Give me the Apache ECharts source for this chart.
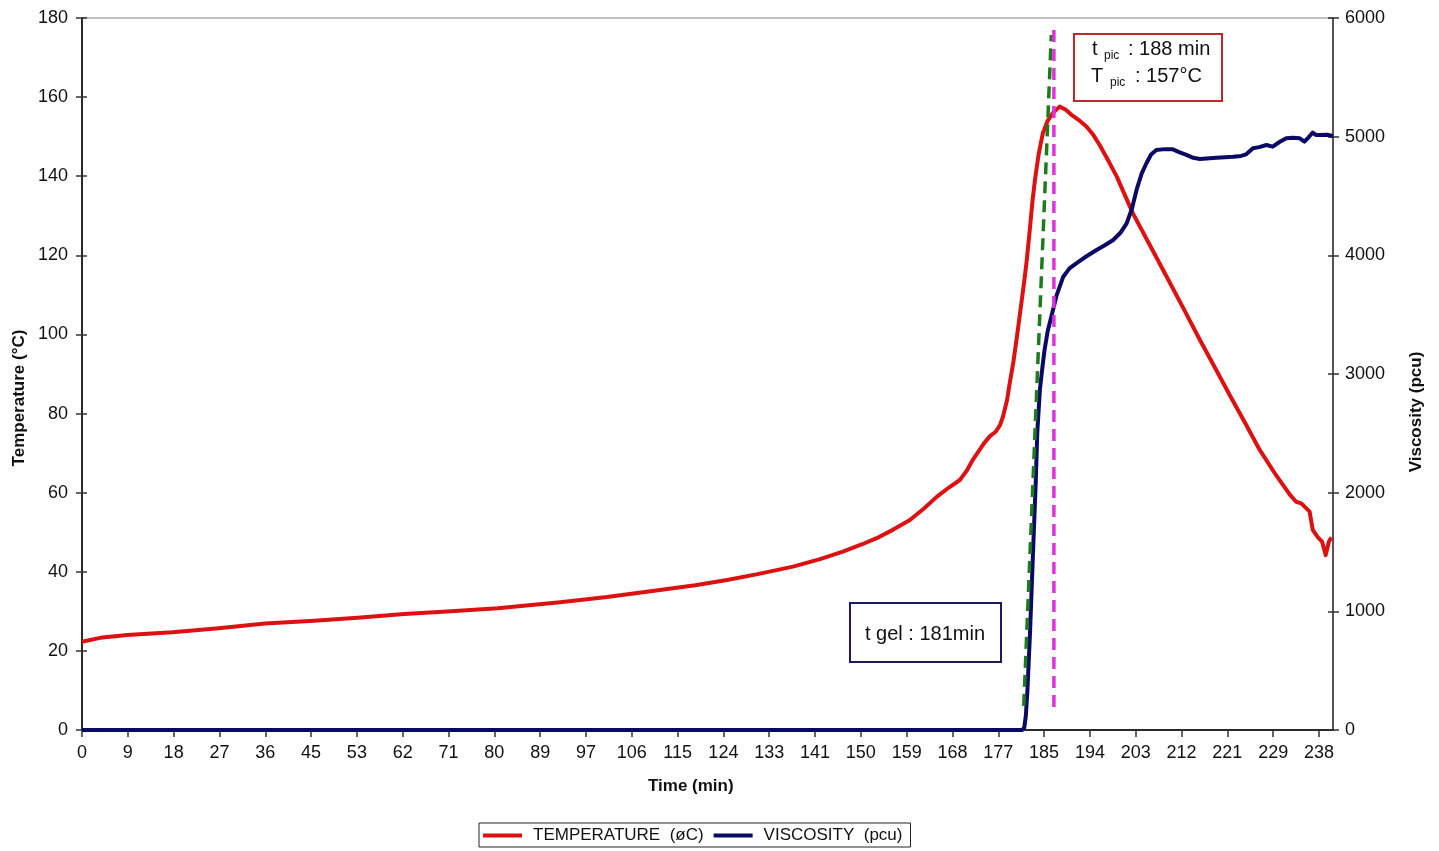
<!DOCTYPE html>
<html>
<head>
<meta charset="utf-8">
<script src="https://cdn.jsdelivr.net/npm/echarts@6/dist/echarts.min.js"></script>
<style>
html,body{margin:0;padding:0;background:#fff;}
#chart{width:1439px;height:851px;}
</style>
</head>
<body>
<div id="chart"></div>
<script>
// ---- data (time in min) ----
const xTickLabels = ['0','9','18','27','36','45','53','62','71','80','89','97','106','115','124','133','141','150','159','168','177','185','194','203','212','221','229','238'];
const tempLabel = 'TEMPERATURE  (øC)';
const viscLabel = 'VISCOSITY  (pcu)';
const temperature = [
  [0,22.3],[3.5,23.3],[8.7,24.0],[17.4,24.7],[26.3,25.7],[35.2,26.9],[44.7,27.6],[53,28.4],[62,29.3],[71,30.0],
  [80,30.8],[92,32.3],[101,33.6],[111.2,35.4],[118,36.6],[124.1,37.9],[130,39.4],[136.8,41.3],[142,43.2],[146.4,45.1],
  [150,46.9],[152.9,48.5],[156,50.6],[159.3,53.1],[162,56.0],[164.5,59.0],[166.8,61.3],[168.9,63.2],[170.2,65.5],[171.4,68.3],
  [172.6,70.6],[173.5,72.4],[174.7,74.3],[175.8,75.4],[176.6,77.0],[177.2,79.2],[178.0,83.5],
  [178.5,87.7],[179.2,93],[179.8,98.6],[180.3,103.5],[180.8,108.5],[181.3,113.5],[181.8,119],[182.4,127],[182.9,134],[183.4,139.5],[184.0,145],
  [184.5,148.5],[184.9,151],[185.8,154],[186.8,156],[188.1,157.6],[189.3,156.8],
  [190.4,155.5],[191.8,154.2],[193.3,152.5],[194.6,150.4],[195.8,147.9],[197.4,144.1],[199.1,139.9],[202.2,130.6],[205.5,122.5],[208.7,114.6],[212,106.4],[215.1,98.6],[218,91.6],[220.9,84.5],
  [223.8,77.6],[226.6,70.8],[229.5,64.9],[232.4,59.5],[233.6,57.7],[234.6,57.3],[236.2,55.2],[236.8,50.6],[237.8,48.7],[238.6,47.6],[239.3,44.2],[239.9,47.6],[240.4,48.7]
];
const viscosity = [
  [0,0],[180.9,0],[181.3,20],[181.6,120],[181.9,330],[182.4,817],[183.0,1517],[183.5,2081],[183.8,2503],[184.3,2865],[184.8,3060],[185.2,3202],[185.8,3360],[186.5,3483],
  [187.5,3660],[188.8,3820],[190.0,3890],[191.3,3933],[193.2,3990],[195.2,4045],[196.8,4085],[198.4,4129],[199.8,4190],[201.0,4270],[202.0,4390],[202.9,4551],[203.9,4690],[204.8,4776],[205.7,4850],[206.7,4888],[208.3,4895],[209.9,4893],
  [211.2,4868],[212.5,4846],[213.8,4822],[215.1,4812],[218.3,4822],[221.5,4831],[223.0,4838],[224.0,4851],[225.3,4902],[226.5,4912],[227.9,4930],[229.1,4916],[230.4,4955],[231.7,4986],[233.0,4990],[234.3,4986],
  [235.2,4958],[236.0,4995],[236.8,5034],[237.4,5015],[238.1,5014],[239.5,5016],[240.7,5006]
];
const gelLine = [[181.2,6.1],[186.5,175.7]];
const peakLine = [[187.0,5.8],[187.0,178.5]];
const tempTicks = {min:0, max:180, interval:20};
const viscTicks = {min:0, max:6000, interval:1000};

// ---- chart ----
const FONT = 'Liberation Sans, Arial, sans-serif';
const xStep = 238/27;
const chart = echarts.init(document.getElementById('chart'), null, {renderer:'canvas'});

function yAx(ticks, pos, inside){
  const base = {
    type:'value', min:ticks.min, max:ticks.max, interval:ticks.interval, position:pos,
    splitLine:{show:false},
  };
  if (inside){
    return Object.assign(base, {
      axisLine:{show:false},
      axisLabel:{show:false},
      axisTick:{show:true, inside:true, length:5, lineStyle:{color:'#333', width:1.5}}
    });
  }
  return Object.assign(base, {
    axisLine:{show:true, lineStyle:{color: pos==='left' ? '#2a2a2a' : '#555', width:2}},
    axisTick:{show:true, length:6, lineStyle:{color:'#333', width:1.5}},
    axisLabel:{fontSize:18, color:'#111', fontFamily:FONT, margin: pos==='left' ? 14 : 12,
      formatter:function(v){ return String(v); }}
  });
}

const option = {
  animation:false,
  backgroundColor:'#fff',
  grid:{left:82, right:106, top:18, bottom:121, show:true, borderColor:'#808080', borderWidth:1},
  legend:{
    data:[tempLabel, viscLabel],
    left:479, top:823,
    padding:[4,8,3,4],
    borderColor:'#222', borderWidth:1,
    icon:'rect', itemWidth:39, itemHeight:4, itemGap:10,
    textStyle:{fontSize:17, color:'#111', fontFamily:FONT, padding:[0,0,0,6]}
  },
  xAxis:{
    type:'value', min:0, max:240.7, interval:xStep,
    axisLine:{show:true, lineStyle:{color:'#2a2a2a', width:2}},
    axisTick:{show:true, length:7, lineStyle:{color:'#333', width:1.5}},
    axisLabel:{
      fontSize:18, color:'#111', fontFamily:FONT, margin:14, showMaxLabel:false,
      formatter:function(v){
        const i = Math.round(v/xStep);
        if (Math.abs(v - i*xStep) > 0.01) return '';
        return xTickLabels[i] !== undefined ? xTickLabels[i] : '';
      }
    },
    splitLine:{show:false}
  },
  yAxis:[ yAx(tempTicks,'left',false), yAx(viscTicks,'right',false), yAx(tempTicks,'left',true), yAx(viscTicks,'right',true) ],
  series:[
    {name:tempLabel, type:'line', yAxisIndex:0, data:temperature, symbol:'none',
     lineStyle:{color:'#dd1111', width:4, join:'round'}, itemStyle:{color:'#dd1111'}, z:3},
    {name:viscLabel, type:'line', yAxisIndex:1, data:viscosity, symbol:'none',
     lineStyle:{color:'#0a0a66', width:4, join:'round'}, itemStyle:{color:'#0a0a66'}, z:4},
    {name:'gel', type:'line', yAxisIndex:0, data:gelLine, symbol:'none',
     lineStyle:{color:'#1f7a1f', width:3.5, type:[12,7]}, z:5},
    {name:'peak', type:'line', yAxisIndex:0, data:peakLine, symbol:'none',
     lineStyle:{color:'#dd33dd', width:3.5, type:[12,7]}, z:6}
  ],
  graphic:[
    {type:'text', left:648, top:778, style:{text:'Time (min)', fontSize:17, fontWeight:'bold', fill:'#111', fontFamily:FONT}},
    {type:'text', x:19, y:398, rotation:Math.PI/2, style:{text:'Temperature (°C)', fontSize:17, fontWeight:'bold', fill:'#111', fontFamily:FONT, align:'center', verticalAlign:'middle'}},
    {type:'text', x:1416, y:412, rotation:Math.PI/2, style:{text:'Viscosity (pcu)', fontSize:17, fontWeight:'bold', fill:'#111', fontFamily:FONT, align:'center', verticalAlign:'middle'}},
    // t_pic box
    {type:'rect', shape:{x:1074, y:34, width:148, height:67}, style:{fill:'#fff', stroke:'#c0282d', lineWidth:2}, z:10},
    {type:'text', x:1092, y:49, z:11, style:{text:'t', fontSize:20, fill:'#111', fontFamily:FONT, verticalAlign:'middle'}},
    {type:'text', x:1104, y:56, z:11, style:{text:'pic', fontSize:12, fill:'#111', fontFamily:FONT, verticalAlign:'middle'}},
    {type:'text', x:1128, y:49, z:11, style:{text:': 188 min', fontSize:20, fill:'#111', fontFamily:FONT, verticalAlign:'middle'}},
    {type:'text', x:1091, y:76, z:11, style:{text:'T', fontSize:20, fill:'#111', fontFamily:FONT, verticalAlign:'middle'}},
    {type:'text', x:1110, y:83, z:11, style:{text:'pic', fontSize:12, fill:'#111', fontFamily:FONT, verticalAlign:'middle'}},
    {type:'text', x:1135, y:76, z:11, style:{text:': 157°C', fontSize:20, fill:'#111', fontFamily:FONT, verticalAlign:'middle'}},
    // t_gel box
    {type:'rect', shape:{x:850, y:603, width:151, height:59}, style:{fill:'#fff', stroke:'#1a1a5e', lineWidth:2}, z:10},
    {type:'text', x:925, y:634, z:11, style:{text:'t gel : 181min', fontSize:20, fill:'#111', fontFamily:FONT, align:'center', verticalAlign:'middle'}}
  ]
};
chart.setOption(option);
</script>
</body>
</html>
